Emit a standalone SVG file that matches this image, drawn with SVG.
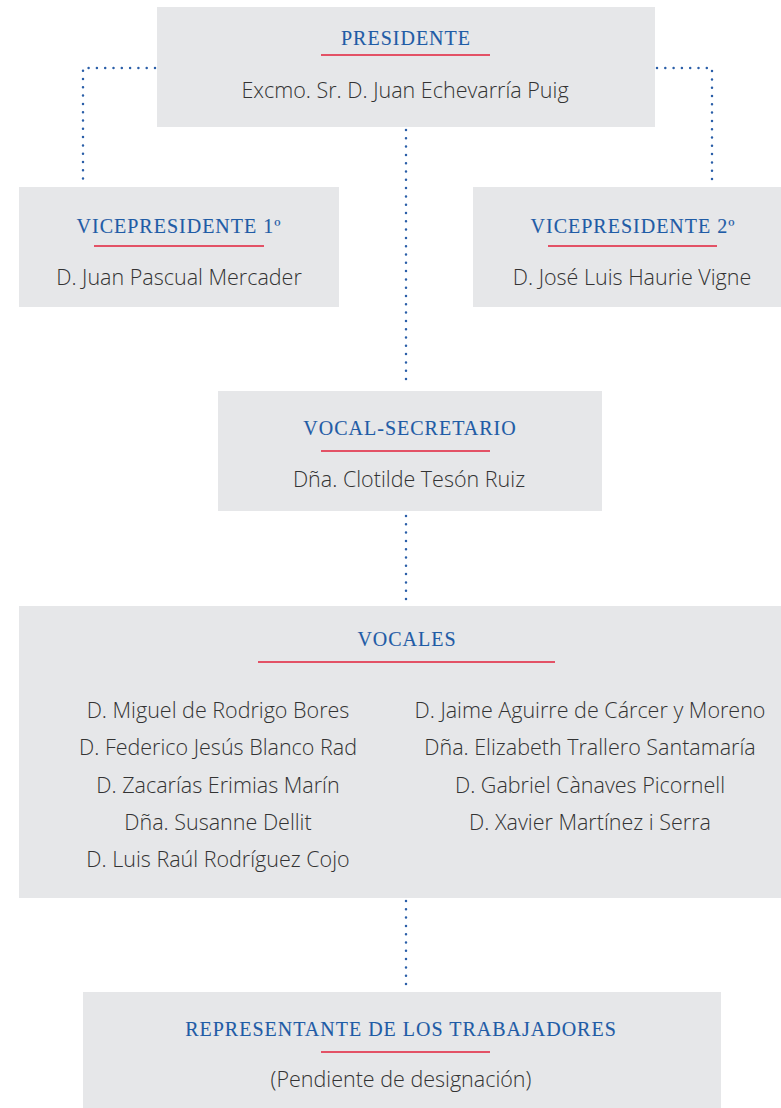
<svg xmlns="http://www.w3.org/2000/svg" width="781" height="1108" viewBox="0 0 781 1108">
<style>
.box{fill:#e6e7e9}
.t{font-family:"Liberation Serif","DejaVu Serif",serif;font-size:20px;fill:#1f5ca6;stroke:#1f5ca6;stroke-width:0.12;text-anchor:middle;letter-spacing:1px}
.n{font-family:"Open Sans","Liberation Sans",sans-serif;font-weight:300;font-size:21.5px;fill:#333333;text-anchor:middle}
.r{stroke:#e2203a;stroke-width:1.6}
.c{fill:none;stroke:#2a5ea8;stroke-width:2.5;stroke-linecap:round;stroke-dasharray:0 8.3}
</style>
<rect width="781" height="1108" fill="#ffffff"/>
<g id="connectors">
<path class="c" d="M155 68 H83 V185"/>
<path class="c" d="M657 68 H712 V185"/>
<path class="c" d="M406 130 V386"/>
<path class="c" d="M406 516 V601"/>
<path class="c" d="M406 901 V988"/>
</g>
<g id="presidente">
<rect class="box" x="157" y="7" width="498" height="120"/>
<text class="t" x="406" y="45">PRESIDENTE</text>
<line class="r" x1="321" y1="55" x2="490" y2="55"/>
<text class="n" x="405" y="98">Excmo. Sr. D. Juan Echevarría Puig</text>
</g>
<g id="vicepresidente1">
<rect class="box" x="19" y="187" width="320" height="120"/>
<text class="t" x="179" y="233">VICEPRESIDENTE 1º</text>
<line class="r" x1="94" y1="246" x2="264" y2="246"/>
<text class="n" x="179" y="285">D. Juan Pascual Mercader</text>
</g>
<g id="vicepresidente2">
<rect class="box" x="473" y="187" width="308" height="120"/>
<text class="t" x="633" y="233">VICEPRESIDENTE 2º</text>
<line class="r" x1="548" y1="246" x2="717" y2="246"/>
<text class="n" x="632" y="285">D. José Luis Haurie Vigne</text>
</g>
<g id="vocal-secretario">
<rect class="box" x="218" y="391" width="384" height="120"/>
<text class="t" x="410" y="435">VOCAL-SECRETARIO</text>
<line class="r" x1="321" y1="451" x2="490" y2="451"/>
<text class="n" x="409" y="487">Dña. Clotilde Tesón Ruiz</text>
</g>
<g id="vocales">
<rect class="box" x="19" y="606" width="762" height="292"/>
<text class="t" x="407" y="646">VOCALES</text>
<line class="r" x1="258" y1="662" x2="555" y2="662"/>
<text class="n" x="218" y="718">D. Miguel de Rodrigo Bores</text>
<text class="n" x="218" y="755">D. Federico Jesús Blanco Rad</text>
<text class="n" x="218" y="793">D. Zacarías Erimias Marín</text>
<text class="n" x="218" y="830">Dña. Susanne Dellit</text>
<text class="n" x="218" y="867">D. Luis Raúl Rodríguez Cojo</text>
<text class="n" x="590" y="718">D. Jaime Aguirre de Cárcer y Moreno</text>
<text class="n" x="590" y="755">Dña. Elizabeth Trallero Santamaría</text>
<text class="n" x="590" y="793">D. Gabriel Cànaves Picornell</text>
<text class="n" x="590" y="830">D. Xavier Martínez i Serra</text>
</g>
<g id="representante">
<rect class="box" x="83" y="992" width="638" height="116"/>
<text class="t" x="401" y="1036">REPRESENTANTE DE LOS TRABAJADORES</text>
<line class="r" x1="321" y1="1052" x2="490" y2="1052"/>
<text class="n" x="401" y="1087">(Pendiente de designación)</text>
</g>
</svg>
